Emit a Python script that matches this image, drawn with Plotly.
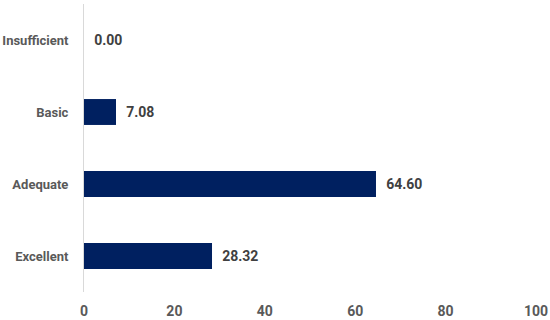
import plotly.graph_objects as go

categories = ["Insufficient", "Basic", "Adequate", "Excellent"]
values = [0.00, 7.08, 64.60, 28.32]
tick_vals = [0, 20, 40, 60, 80, 100]

fig = go.Figure(go.Bar(
    y=categories,
    x=values,
    orientation="h",
    marker=dict(color="#002060", line=dict(width=0)),
    width=0.36,
    text=["\u2002" + f"{v:.2f}" for v in values],
    textposition="outside",
    textfont=dict(family="Roboto", size=14, color="#404040", weight="bold"),
    cliponaxis=False,
))

fig.update_layout(
    width=550, height=320,
    margin=dict(l=84, r=14, t=4, b=28, autoexpand=False),
    plot_bgcolor="white", paper_bgcolor="white",
    showlegend=False,
    font=dict(family="Roboto", size=13, color="#595959", weight="bold"),
)
fig.update_xaxes(
    range=[0, 100], tickvals=tick_vals, showgrid=False, zeroline=False,
    showline=False, ticks="", ticklabelstandoff=9, automargin=False,
    tickfont=dict(family="Roboto", size=14, color="#595959", weight="bold"),
)
fig.update_yaxes(
    autorange="reversed", showgrid=False, zeroline=False,
    showline=True, linecolor="#d9d9d9", linewidth=1, ticks="",
    ticklabelstandoff=12, automargin=False,
    tickfont=dict(family="Roboto", size=13, color="#595959", weight="bold"),
)

fig.write_html(
    "out.html",
    config={"displayModeBar": False},
    post_script="document.body.style.margin='0';document.body.style.overflow='hidden';",
)
